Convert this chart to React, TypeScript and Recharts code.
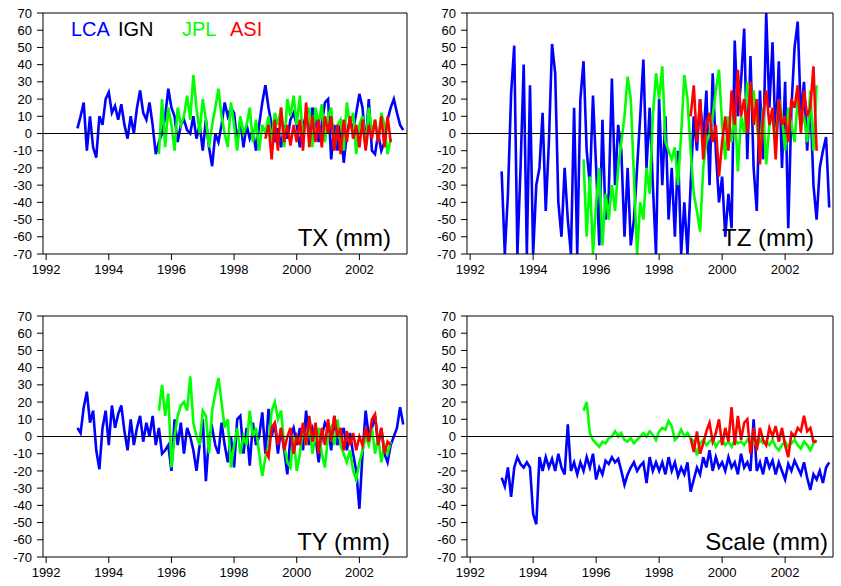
import React from 'react';
import { LineChart, Line, XAxis, YAxis, ReferenceLine } from 'recharts';

// weekly series resampled every 0.1 yr
const STEP = 0.1;
const LCA_START = 1993.0;
const JPL_START = 1995.6;
const ASI_START = 1999.0;

const YEAR_TICKS = [1992, 1994, 1996, 1998, 2000, 2002];
const VALUE_TICKS = [70, 60, 50, 40, 30, 20, 10, 0, -10, -20, -30, -40, -50, -60, -70];
const LEGEND = ['LCA', 'IGN', 'JPL', 'ASI'];

// TX (mm)
const txLca = [
  3, 10, 18, -10, 10, -8, -14, 10, 5, 20,
  24, 12, 16, 8, 17, 5, -3, 10, 0, 15,
  25, 12, 8, 18, 5, -12, -5, 0, 10, 26,
  15, 10, -5, 5, 8, 2, 0, 10, -3, 5,
  -10, 8, -8, -19, 0, -5, 5, 18, 10, 15,
  12, -5, 8, -8, 5, -3, 2, -10, 5, 18,
  28, 15, 5, -5, 3, -8, 5, -3, 8, 12,
  5, -8, 5, 10, 0, 15, 8, -5, 5, 18,
  20, -15, 5, -10, 5, -17, 0, 8, 2, 12,
  23, 15, -8, 20, -10, -12, 0, -10, -5, 8,
  15, 20, 12, 5, 2,
];
const txJpl = [
  -12, 20, -8, 15,
  5, -10, 15, 5, 10, 22, 8, 34, 15, 0,
  20, 8, -8, 5, 15, 26, 10, 0, -8, 18,
  5, -10, 10, 0, 5, 15, -5, 8, -10, 5,
  0, 10, -5, 12, 5, 15, -8, 20, 10, 22,
  5, 22, -5, 10, 15, -8, 15, 5, 17, -5,
  10, 15, -10, 5, 8, -10, 18, 5, 12, -12,
  5, 10, -8, 15, 0, 8, -5, 12, 5, -12,
  -3,
];
const txAsi = [
  -3, 5, -15, 8, -10, 15, -5, 5, -7, 5,
  -5, 8, -10, 18, -8, 10, -5, 8, -8, 10,
  0, 10, -10, 5, -12, 8, -5, 10, -3, 5,
  -8, 8, -10, 5, -3, 8, -5, 10, -8, 10,
  -5,
];

// TZ (mm)
const tzLca = [
  -22, -70, -35, 23, 51, -70, -20, 40, -70, 28,
  -70, -30, -20, 12, -45, -5, 52, 35, -40, -60,
  -20, -50, -70, 15, -70, 20, 42, -10, -30, 22,
  -20, -65, 8, -50, -35, 32, -30, 5, -10, -60,
  -20, -65, -50, -20, 10, 43, -20, 15, -30, -70,
  20, -30, 10, -50, -20, -60, -10, -70, -40, -70,
  -30, 10, -10, 20, -5, 25, -30, 35, -10, -40,
  -25, -60, -35, -55, 54, 10, 30, 61, -15, 45,
  -20, -45, 25, -15, 70, 15, 53, -5, 42, -20,
  30, -55, 15, 50, 65, 10, 30, -10, 20, -30,
  -50, -20, -10, -2, -43,
];
const tzJpl = [
  -15, -60, -25, -70,
  -40, -20, -65, -35, -50, -30, -45, -20, -5, 10,
  33, 20, -25, -70, -40, -50, -20, -35, 10, 35,
  20, 39, -5, -10, -15, -8, -30, 0, 34, 20,
  -10, -35, -45, -57, -20, -5, 0, 10, 25, 37,
  5, -15, 10, -5, 15, -22, 10, 0, 30, 15,
  25, 5, -10, 15, -18, 5, 10, -5, 20, 10,
  -10, 15, 5, -5, 20, 5, 10, -5, 25, -10,
  28,
];
const tzAsi = [
  10, 28, -5, 20, -15, 5, 12, -5, 5, -25,
  -5, 10, -10, 25, 5, 37, 10, 20, 0, 30,
  5, 20, -18, 10, 25, 5, 15, -15, 20, 5,
  10, -5, 20, 15, 28, 0, 25, 10, 15, 39,
  -10,
];

// TY (mm)
const tyLca = [
  5, 2, 17, 26, 8, 15, -8, -19, 5, 15,
  -5, 18, 5, 13, 18, 3, -8, 10, -5, 5,
  12, -3, 8, 0, 12, -5, 5, -10, -8, -5,
  -20, 10, -5, 8, -10, 5, 0, -8, -20, -5,
  10, -26, 0, 5, -5, -10, 8, -5, -15, 0,
  -18, 10, 12, -10, 5, -17, 8, -5, 0, 14,
  -10, 16, 0, 8, -10, 5, -8, -22, 0, 5,
  -5, 5, -8, 15, -5, 5, 0, -15, 0, 8,
  5, -8, 12, -5, 0, 5, -8, 2, -10, -20,
  -42, -10, 15, 0, 5, 12, -5, 5, -10, -15,
  -5, 0, 5, 17, 7,
];
const tyJpl = [
  15, 30, 12, 25,
  -18, 0, 12, 18, 20, 15, 35, 8, 0, -5,
  15, 12, -10, 15, 25, 34, 20, 5, 10, -18,
  -5, 5, -10, 0, -5, 15, 0, 5, -10, -23,
  -12, -5, 15, 20, 10, 15, -5, -15, -18, 0,
  -20, -10, 5, -5, 8, -10, 0, 5, -10, -18,
  0, 5, -5, 10, -5, -10, -15, -8, -20, -25,
  -15, -8, 0, -5, 5, -10, 0, -15, -5, -10,
  -3,
];
const tyAsi = [
  -8, -12, 5, 8, -5, 5, -8, 0, 5, -10,
  0, -5, 8, -5, 12, -3, 8, -10, 5, -5,
  10, -3, 12, 0, 5, -8, 3, -5, 2, -8,
  0, -5, 5, -3, 10, 13, -5, 5, -10, -3,
  -5,
];

// Scale (mm)
const scLca = [
  -24, -29, -18, -35, -18, -12, -16, -18, -15, -18,
  -45, -51, -12, -20, -12, -18, -13, -20, -10, -18,
  -22, 7, -20, -15, -22, -15, -20, -12, -18, -10,
  -25, -18, -22, -14, -16, -12, -15, -13, -20, -28,
  -22, -18, -15, -20, -17, -15, -27, -12, -20, -15,
  -20, -15, -22, -12, -20, -15, -23, -18, -22, -15,
  -32, -25, -18, -22, -12, -18, -8, -20, -12, -18,
  -15, -20, -12, -18, -15, -22, -10, -18, -15, -20,
  10, -20, -15, -22, -12, -18, -14, -22, -15, -20,
  -25, -16, -20, -14, -18, -22, -15, -24, -31, -22,
  -25, -20, -27, -18, -15,
];
const scJpl = [
  15, 20, 2, -2,
  -4, -6, -3, -4, -1, 0, 3, 0, 2, -2,
  -3, -1, -4, -2, 0, 2, 0, 3, 1, -2,
  3, 5, 4, 9, 6, -2, 0, 4, 0, 2,
  -1, -3, -11, -4, -2, -5, -3, -1, -6, -3,
  -2, -5, -3, -6, -2, -4, -3, -5, -2, -4,
  -3, -6, -2, -4, -3, -5, -2, -6, -8, -5,
  -3, -6, -4, -2, -5, -7, -3, -5, -8, -4,
  -2,
];
const scAsi = [
  -1, -9, 3, -10, -4, 3, 8, -3, 2, 10,
  -5, 5, -3, 17, -5, 12, -2, 8, 10, -10,
  5, -8, 5, -2, -5, 5, 0, 6, -3, 5,
  -5, -12, 2, 0, 5, 3, 12, 3, 5, -3,
  -3,
];

const FONT = '"Liberation Sans", Arial, Helvetica, sans-serif';
const BLUE = '#0000ff';
const GREEN = '#00ff00';
const RED = '#ff0000';
const LEGEND_COLORS = [BLUE, '#000000', GREEN, RED];

const AXIS_L = 43;
const AXIS_R = 8;
const AXIS_T = 13;
const AXIS_B = 36;
const PLOT_H = 241;
const X_DOMAIN = [1991.9, 2003.52];

const toPoints = (start: number, vals: number[]) =>
  vals.map((v, i) => ({ t: Math.round((start + i * STEP) * 100) / 100, v }));

interface PanelProps {
  left: number;
  top: number;
  plotW: number;
  lca: number[];
  jpl: number[];
  asi: number[];
}

function Panel({ left, top, plotW, lca, jpl, asi }: PanelProps) {
  const w = AXIS_L + plotW + AXIS_R;
  const h = AXIS_T + PLOT_H + AXIS_B;
  const tickStyle = { fill: '#000', fontSize: 13, fontFamily: FONT };
  return (
    <div style={{ position: 'absolute', left: left - AXIS_L, top: top - AXIS_T }}>
      <LineChart width={w} height={h} margin={{ top: 0, right: 0, bottom: 0, left: 0 }}>
        <XAxis
          xAxisId="b"
          dataKey="t"
          type="number"
          domain={X_DOMAIN}
          ticks={YEAR_TICKS}
          interval={0}
          allowDataOverflow
          orientation="bottom"
          height={AXIS_B}
          stroke="#000"
          tickSize={6}
          tickMargin={5}
          tick={tickStyle}
        />
        <XAxis
          xAxisId="t"
          dataKey="t"
          type="number"
          domain={X_DOMAIN}
          ticks={YEAR_TICKS}
          interval={0}
          allowDataOverflow
          orientation="top"
          height={AXIS_T}
          stroke="#000"
          tickSize={6}
          tick={false}
        />
        <YAxis
          yAxisId="l"
          type="number"
          domain={[-70, 70]}
          ticks={VALUE_TICKS}
          interval={0}
          allowDataOverflow
          width={AXIS_L}
          stroke="#000"
          tickSize={6}
          tickMargin={5}
          tick={tickStyle}
        />
        <YAxis
          yAxisId="r"
          orientation="right"
          type="number"
          domain={[-70, 70]}
          ticks={VALUE_TICKS}
          interval={0}
          allowDataOverflow
          width={AXIS_R}
          stroke="#000"
          tickSize={5}
          tick={false}
        />
        <Line xAxisId="b" yAxisId="l" data={toPoints(LCA_START, lca)} dataKey="v" stroke={BLUE}
          strokeWidth={2.6} strokeLinejoin="miter" dot={false} isAnimationActive={false} />
        <Line xAxisId="b" yAxisId="l" data={toPoints(JPL_START, jpl)} dataKey="v" stroke={GREEN}
          strokeWidth={2.6} strokeLinejoin="miter" dot={false} isAnimationActive={false} />
        <Line xAxisId="b" yAxisId="l" data={toPoints(ASI_START, asi)} dataKey="v" stroke={RED}
          strokeWidth={2.6} strokeLinejoin="miter" dot={false} isAnimationActive={false} />
        <ReferenceLine xAxisId="b" yAxisId="l" y={0} stroke="#000" strokeWidth={1} />
      </LineChart>
    </div>
  );
}

export default function App() {
  const legendX = [71, 118, 182, 230];
  return (
    <div style={{ position: 'absolute', left: 0, top: 0, width: 841, height: 586, background: '#fff' }}>
      <Panel left={43} top={13} plotW={364} lca={txLca} jpl={txJpl} asi={txAsi} />
      <Panel left={467} top={13} plotW={366} lca={tzLca} jpl={tzJpl} asi={tzAsi} />
      <Panel left={43} top={316} plotW={364} lca={tyLca} jpl={tyJpl} asi={tyAsi} />
      <Panel left={467} top={316} plotW={366} lca={scLca} jpl={scJpl} asi={scAsi} />
      <svg width={841} height={586} style={{ position: 'absolute', left: 0, top: 0, pointerEvents: 'none' }}>
        {LEGEND.map((name, i) => (
          <text key={name} x={legendX[i]} y={36} fontSize={20} fontFamily={FONT} fill={LEGEND_COLORS[i]}>
            {name}
          </text>
        ))}
        <text x={391} y={246} fontSize={24} fontFamily={FONT} textAnchor="end" fill="#000">TX (mm)</text>
        <text x={814} y={246} fontSize={24} fontFamily={FONT} textAnchor="end" fill="#000">TZ (mm)</text>
        <text x={390} y={550} fontSize={24} fontFamily={FONT} textAnchor="end" fill="#000">TY (mm)</text>
        <text x={828} y={550} fontSize={24} fontFamily={FONT} textAnchor="end" fill="#000">Scale (mm)</text>
      </svg>
    </div>
  );
}
